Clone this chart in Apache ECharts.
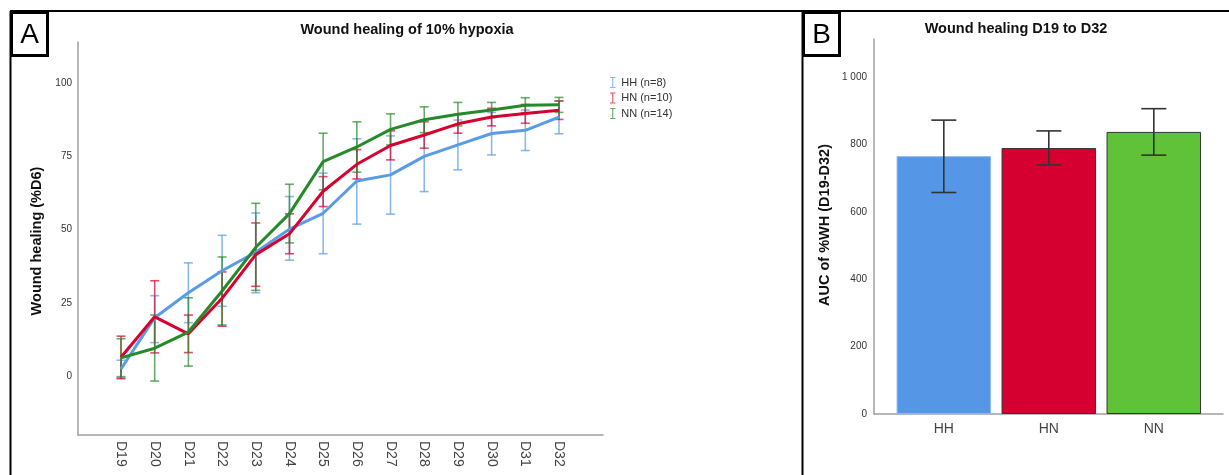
<!DOCTYPE html>
<html><head><meta charset="utf-8">
<script src="https://cdn.jsdelivr.net/npm/echarts@6/dist/echarts.min.js"></script>
<style>html,body{margin:0;padding:0;background:#fff}#c{width:1229px;height:475px}</style>
</head><body><div id="c"></div>
<script>
// ---- Panel A data ----
var days = ['D19','D20','D21','D22','D23','D24','D25','D26','D27','D28','D29','D30','D31','D32'];
var dayNum = [19,20,21,22,23,24,25,26,27,28,29,30,31,32];
var yTicksA = [0, 25, 50, 75, 100];
var hhMean = [2.5, 20, 28.5, 36, 42.3, 50.2, 55.6, 66.6, 68.7, 75, 78.9, 82.8, 83.9, 88.4];
var hhLo   = [-0.5, 11.5, 18.3, 23.9, 28.5, 39.6, 41.8, 51.9, 55.3, 63, 70.4, 75.5, 77, 82.7];
var hhHi   = [5.5, 27.5, 38.7, 48.1, 55.7, 61.3, 69.3, 81, 82, 87.4, 87.4, 90, 90.8, 93.9];
var hnMean = [6.5, 20.3, 14.5, 26.6, 41.5, 48.6, 63.1, 72.3, 78.7, 82.3, 86.1, 88.4, 89.6, 90.7];
var hnLo   = [-0.8, 8, 8.1, 17.1, 30.7, 41.8, 57.9, 67.3, 73.8, 77.8, 82.9, 85.4, 86.3, 87.6];
var hnHi   = [13.7, 32.6, 20.9, 35.6, 52.3, 55.4, 68.1, 77.3, 83.7, 86.8, 89.3, 91.4, 92.7, 93.9];
var nnMean = [6.3, 9.6, 15.1, 29.1, 44, 55.5, 73.2, 78.2, 84.2, 87.5, 89.4, 90.8, 92.4, 92.6];
var nnLo   = [-0.1, -1.6, 3.5, 17.5, 29.3, 45.5, 63.6, 69.6, 78.9, 83.1, 85.4, 88.2, 89.9, 90];
var nnHi   = [12.8, 20.9, 26.8, 40.7, 59, 65.5, 82.9, 86.8, 89.5, 91.9, 93.4, 93.4, 95, 95.1];
var legendNames = ['HH (n=8)', 'HN (n=10)', 'NN (n=14)'];
// ---- Panel B data ----
var groups = ['HH', 'HN', 'NN'];
var aucMean = [766, 790, 838];
var aucLo   = [658, 740, 769];
var aucHi   = [873, 841, 907];
var yTicksB = [0, 200, 400, 600, 800, 1000];

var FONT = 'Liberation Sans, Arial, sans-serif';
var lineCol = ['#5a9be8', '#d8002e', '#268a2a'];
var errCol  = ['rgba(90,155,232,0.7)', 'rgba(216,0,46,0.7)', 'rgba(38,138,42,0.7)'];
var barCol  = ['#5596e6', '#d5002f', '#5fc238'];

function pts(xs, ys){ return xs.map(function(x,i){ return [x, ys[i]]; }); }
function errData(xs, lo, hi){ return xs.map(function(x,i){ return [x, lo[i], hi[i]]; }); }
function errRender(color, capW, lw){
  return function(params, api){
    var x = api.value(0);
    var p1 = api.coord([x, api.value(1)]), p2 = api.coord([x, api.value(2)]);
    var h = capW/2, st = {stroke: color, lineWidth: lw};
    return {type:'group', children:[
      {type:'line', shape:{x1:p1[0], y1:p1[1], x2:p2[0], y2:p2[1]}, style:st},
      {type:'line', shape:{x1:p1[0]-h, y1:p1[1], x2:p1[0]+h, y2:p1[1]}, style:st},
      {type:'line', shape:{x1:p2[0]-h, y1:p2[1], x2:p2[0]+h, y2:p2[1]}, style:st}
    ]};
  };
}

var means = [hhMean, hnMean, nnMean], los = [hhLo, hnLo, nnLo], his = [hhHi, hnHi, nnHi];
var series = [];
for (var k = 0; k < 3; k++) {
  series.push({type:'custom', xAxisIndex:0, yAxisIndex:0, renderItem: errRender(errCol[k], 9, 1.6),
    data: errData(dayNum, los[k], his[k]), silent:true, z:2});
}
for (var k = 0; k < 3; k++) {
  series.push({type:'line', name: legendNames[k], xAxisIndex:0, yAxisIndex:0, data: pts(dayNum, means[k]),
    showSymbol:false, symbol:'none', lineStyle:{color: lineCol[k], width:3}, itemStyle:{color: errCol[k]}, z:3});
}
series.push({type:'bar', xAxisIndex:1, yAxisIndex:1, barWidth:94.5,
  data: aucMean.map(function(v,i){ return {value:[i, v], itemStyle:{color: barCol[i], borderColor: i===0 ? '#8fb9ee' : '#333', borderWidth: 1}}; }),
  z:2});
series.push({type:'custom', xAxisIndex:1, yAxisIndex:1, renderItem: errRender('#333', 25, 1.6),
  data: errData([0,1,2], aucLo, aucHi), z:4});

var axisLineStyle = {show:true, onZero:false, lineStyle:{color:'#a0a0a0', width:1.5}};
var option = {
  animation:false,
  textStyle:{fontFamily: FONT},
  grid:[
    {left:78, right:1229-603, top:42, bottom:475-435},
    {left:874, right:6, top:39, bottom:475-414}
  ],
  xAxis:[
    {type:'value', gridIndex:0, min:17.724, max:33.306, axisLine:axisLineStyle, axisTick:{show:false}, splitLine:{show:false},
     axisLabel:{customValues: dayNum, rotate:-90, fontSize:14, color:'#444', fontFamily:FONT, margin:6,
       formatter:function(v){ return days[dayNum.indexOf(v)] || ''; }}},
    {type:'value', gridIndex:1, min:-0.665, max:2.659, axisLine:axisLineStyle, axisTick:{show:false}, splitLine:{show:false},
     axisLabel:{customValues:[0,1,2], fontSize:14, color:'#444', fontFamily:FONT, margin:8,
       formatter:function(v){ return groups[v] || ''; }}}
  ],
  yAxis:[
    {type:'value', gridIndex:0, min:-20, max:114, axisLine:axisLineStyle, axisTick:{show:false}, splitLine:{show:false},
     axisLabel:{customValues: yTicksA, fontSize:10, color:'#333', fontFamily:FONT, margin:6}},
    {type:'value', gridIndex:1, min:0, max:1114, axisLine:axisLineStyle, axisTick:{show:false}, splitLine:{show:false},
     axisLabel:{customValues: yTicksB, fontSize:10, color:'#333', fontFamily:FONT, margin:7,
       formatter:function(v){ return String(v).replace(/\B(?=(\d{3})+(?!\d))/g, ' '); }}}
  ],
  legend:{
    orient:'vertical', left:605, top:72, itemWidth:7, itemHeight:11, itemGap:4.5,
    icon:'path://M0,0H10V2H6V18H10V20H0V18H4V2H0Z',
    textStyle:{fontSize:11, color:'#333', fontFamily:FONT},
    data: legendNames.map(function(n,i){ return {name:n, itemStyle:{color: errCol[i]}}; })
  },
  graphic:[
    {type:'line', shape:{x1:10, y1:11, x2:1229, y2:11}, style:{stroke:'#000', lineWidth:2}},
    {type:'line', shape:{x1:10.5, y1:11, x2:10.5, y2:475}, style:{stroke:'#000', lineWidth:2}},
    {type:'line', shape:{x1:802.5, y1:11, x2:802.5, y2:475}, style:{stroke:'#000', lineWidth:2}},
    {type:'rect', shape:{x:11.5, y:12.5, width:36, height:43}, style:{fill:'#fff', stroke:'#000', lineWidth:3}},
    {type:'rect', shape:{x:803.5, y:12.5, width:36, height:43}, style:{fill:'#fff', stroke:'#000', lineWidth:3}},
    {type:'text', x:29.5, y:35, style:{text:'A', font:'28px '+FONT, fill:'#000', textAlign:'center', textVerticalAlign:'middle'}},
    {type:'text', x:821.5, y:35, style:{text:'B', font:'28px '+FONT, fill:'#000', textAlign:'center', textVerticalAlign:'middle'}},
    {type:'text', x:407, y:29.5, style:{text:'Wound healing of 10% hypoxia', font:'bold 14.5px '+FONT, fill:'#111', textAlign:'center', textVerticalAlign:'middle'}},
    {type:'text', x:1016, y:28.5, style:{text:'Wound healing D19 to D32', font:'bold 14.5px '+FONT, fill:'#111', textAlign:'center', textVerticalAlign:'middle'}},
    {type:'text', x:37, y:241, rotation:Math.PI/2, style:{text:'Wound healing (%D6)', font:'bold 14.5px '+FONT, fill:'#111', textAlign:'center', textVerticalAlign:'middle'}},
    {type:'text', x:825, y:225, rotation:Math.PI/2, style:{text:'AUC of %WH (D19-D32)', font:'bold 14.5px '+FONT, fill:'#111', textAlign:'center', textVerticalAlign:'middle'}}
  ],
  series: series
};
echarts.init(document.getElementById('c'), null, {renderer:'canvas'}).setOption(option);
</script></body></html>
